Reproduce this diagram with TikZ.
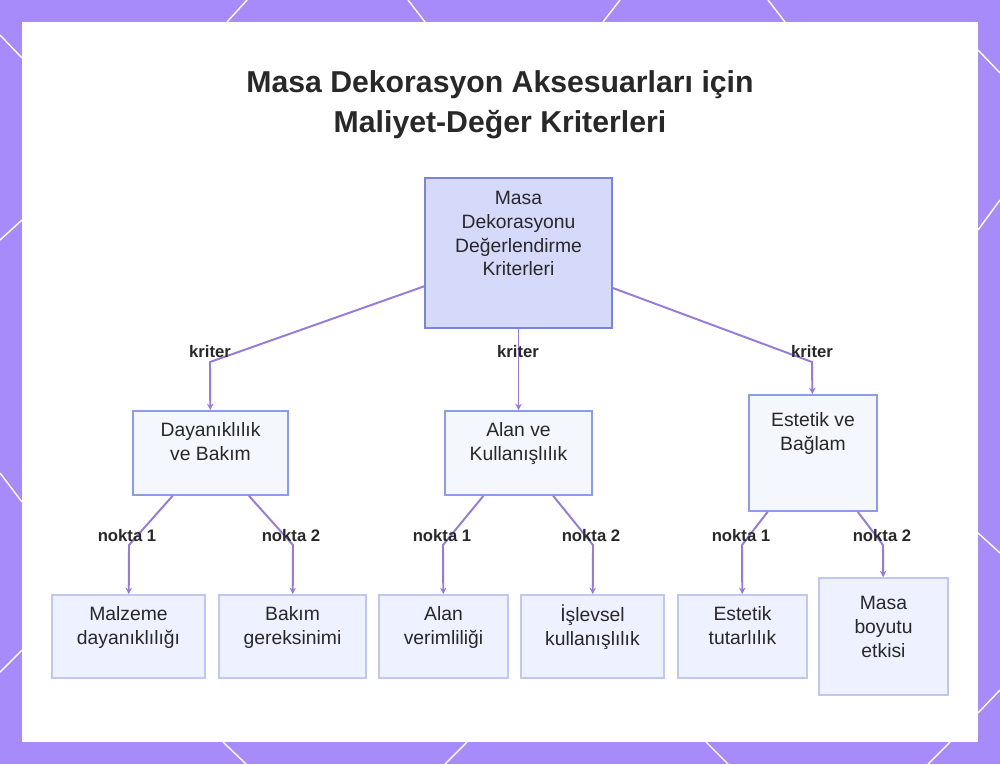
\documentclass[tikz,border=0pt]{standalone}
\usepackage{fontspec}
\setmainfont{Liberation Sans}
\usetikzlibrary{arrows.meta, positioning}
\definecolor{Mor}{RGB}{167,139,250}
\definecolor{MorCizgi}{RGB}{150,122,224}
\definecolor{KokDolgu}{RGB}{214,218,250}
\definecolor{KokKenar}{RGB}{122,132,222}
\definecolor{OrtaDolgu}{RGB}{245,247,255}
\definecolor{OrtaKenar}{RGB}{140,156,232}
\definecolor{AltDolgu}{RGB}{238,241,255}
\definecolor{AltKenar}{RGB}{192,200,242}
\definecolor{Yazi}{RGB}{40,40,40}
\tikzset{kutu/.style={rectangle, draw=OrtaKenar, fill=OrtaDolgu, line width=1pt,
  align=center, inner sep=0pt, text=Yazi, font=\fontsize{11}{13.6}\selectfont}}
\tikzset{kok/.style={kutu, draw=KokKenar, fill=KokDolgu, line width=1.1pt}}
\tikzset{yaprak/.style={kutu, draw=AltKenar, fill=AltDolgu}}
\tikzset{etiket/.style={inner sep=0pt, text=Yazi, font=\fontsize{9.5}{11}\selectfont\bfseries}}
\tikzset{bag/.style={-{Stealth[length=1.3mm, width=1.3mm]}, draw=MorCizgi, line width=1.1pt}}
\tikzset{desen/.style={draw=white, line width=0.8pt}}

\begin{document}
\begin{tikzpicture}[x=0.02cm, y=-0.02cm]
\useasboundingbox (0,0) rectangle (1000,764);
% cerceve
\fill[Mor] (0,0) rectangle (1000,764);
\draw[desen] (227,22)--(247,0) (408,0)--(425,22) (603,22)--(620,0) (768,0)--(785,22);
\draw[desen] (0,35)--(22,58) (0,240)--(22,220) (0,473)--(22,502) (0,672)--(22,650);
\draw[desen] (978,50)--(1000,73) (978,230)--(1000,200) (978,533)--(1000,553) (978,713)--(1000,690);
\draw[desen] (223,742)--(246,764) (467,742)--(445,764) (706,742)--(728,764) (950,742)--(928,764);
\fill[white] (22,22) rectangle (978,742);
% baslik
\node[text=Yazi, align=center, font=\fontsize{17.2}{22.7}\selectfont\bfseries] (baslik) at (500,105)
  {Masa Dekorasyon Aksesuarları için\\Maliyet-Değer Kriterleri};
% dugumler
\node[kok, minimum width=3.74cm, minimum height=3cm] (k) at (518.5,253)
  {Masa\\Dekorasyonu\\Değerlendirme\\Kriterleri\\~\\[-5pt]~};
\node[kutu, minimum width=3.1cm, minimum height=1.68cm] (d) at (210.5,453) {Dayanıklılık\\ve Bakım\\[-1pt]~};
\node[kutu, minimum width=2.94cm, minimum height=1.68cm] (a) at (518.5,453) {Alan ve\\Kullanışlılık\\[-1pt]~};
\node[kutu, minimum width=2.56cm, minimum height=2.32cm] (e) at (813,453) {Estetik ve\\Bağlam\\~\\[-3pt]~};
\node[yaprak, minimum width=3.06cm, minimum height=1.66cm] (d1) at (128.5,636.5) {Malzeme\\dayanıklılığı\\[-1pt]~};
\node[yaprak, minimum width=2.94cm, minimum height=1.66cm] (d2) at (292.5,636.5) {Bakım\\gereksinimi\\[-1pt]~};
\node[yaprak, minimum width=2.58cm, minimum height=1.66cm] (a1) at (443.5,636.5) {Alan\\verimliliği\\[-1pt]~};
\node[yaprak, minimum width=2.86cm, minimum height=1.66cm] (a2) at (592.5,636.5) {İşlevsel\\kullanışlılık\\[-1pt]~};
\node[yaprak, minimum width=2.58cm, minimum height=1.66cm] (e1) at (742.5,636.5) {Estetik\\tutarlılık\\[-1pt]~};
\node[yaprak, minimum width=2.58cm, minimum height=2.34cm] (e2) at (883.5,636.5) {Masa\\boyutu\\etkisi\\[-3pt]~};
% kirilma noktalari
\coordinate (kd) at (210,362);
\coordinate (ka) at (518.5,362);
\coordinate (ke) at (812,362);
\coordinate (b1) at (129,545);
\coordinate (b2) at (293,545);
\coordinate (b3) at (443,545);
\coordinate (b4) at (593,545);
\coordinate (b5) at (742,545);
\coordinate (b6) at (883,545);
% baglar
\draw[bag] (k) -- (kd) -- (d);
\draw[bag] (k) -- (a);
\draw[bag] (k) -- (ke) -- (e);
\draw[bag] (d) -- (b1) -- (d1);
\draw[bag] (d) -- (b2) -- (d2);
\draw[bag] (a) -- (b3) -- (a1);
\draw[bag] (a) -- (b4) -- (a2);
\draw[bag] (e) -- (b5) -- (e1);
\draw[bag] (e) -- (b6) -- (e2);
% etiketler
\node[etiket] (t1) at (210,352) {kriter};
\node[etiket] (t2) at (518,352) {kriter};
\node[etiket] (t3) at (812,352) {kriter};
\node[etiket] (n1) at (127,536) {nokta 1};
\node[etiket] (n2) at (291,536) {nokta 2};
\node[etiket] (n3) at (442,536) {nokta 1};
\node[etiket] (n4) at (591,536) {nokta 2};
\node[etiket] (n5) at (741,536) {nokta 1};
\node[etiket] (n6) at (882,536) {nokta 2};
\end{tikzpicture}
\end{document}
